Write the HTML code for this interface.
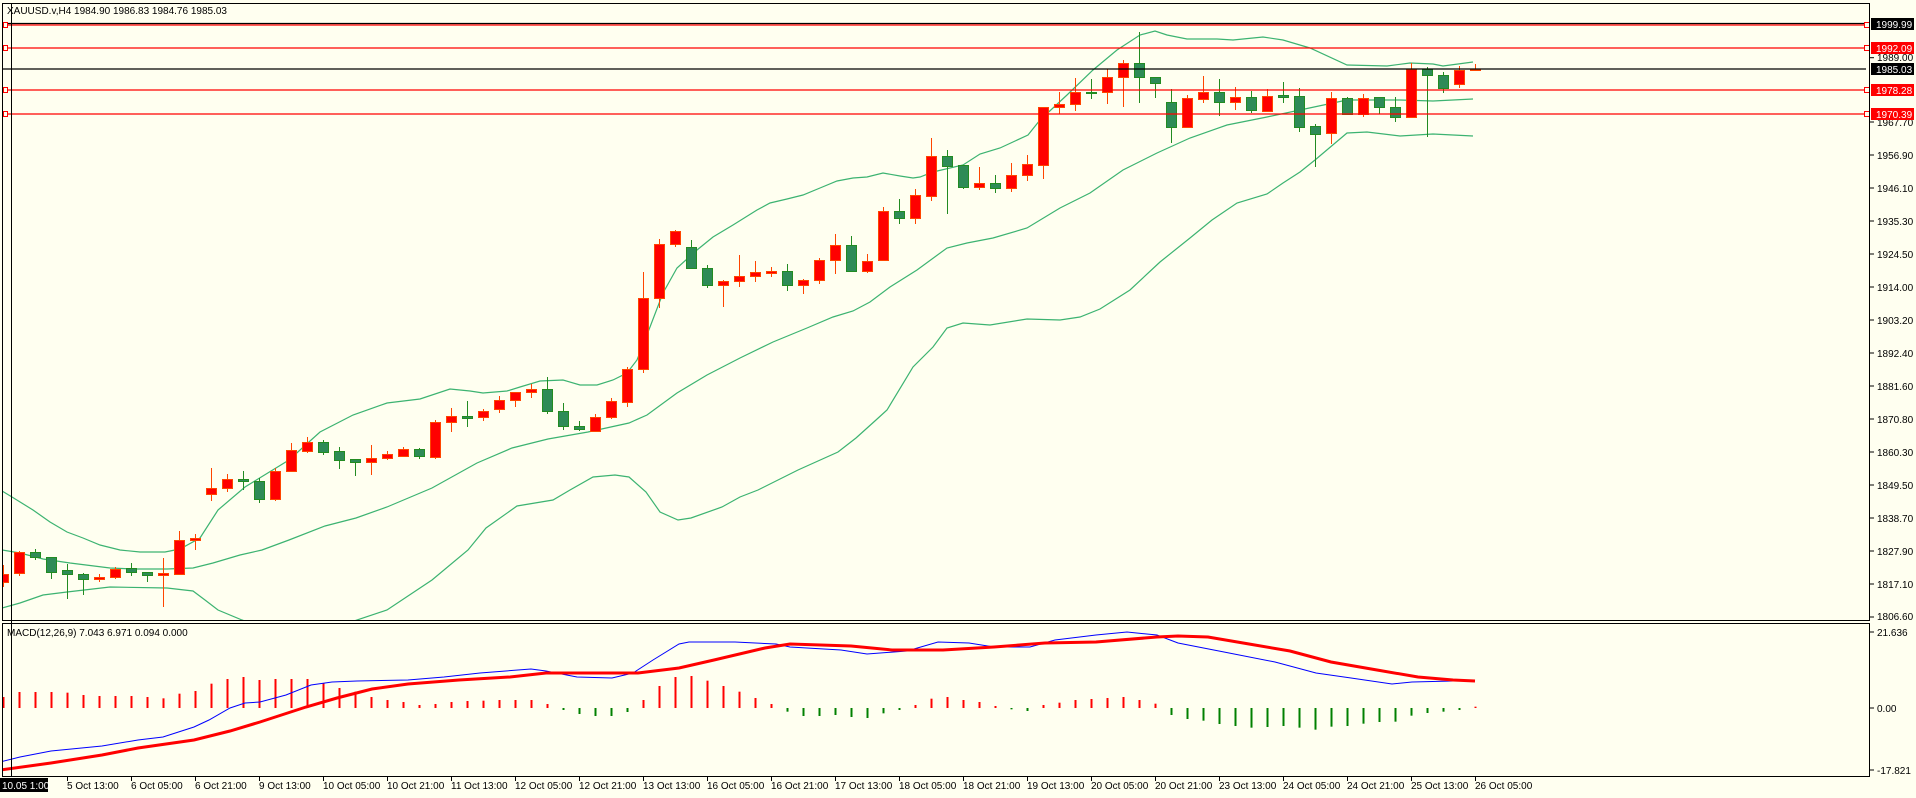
<!DOCTYPE html>
<html><head><meta charset="utf-8"><style>
html,body{margin:0;padding:0;background:#fffff0;}
svg{display:block;}
text{font-family:"Liberation Sans",sans-serif;font-size:10px;fill:#000;}
</style></head><body>
<svg id="s" width="1916" height="798" xmlns="http://www.w3.org/2000/svg">
<rect width="1916" height="798" fill="#fffff0"/>
<defs>
<clipPath id="cm"><rect x="3" y="4" width="1866" height="616"/></clipPath>
<clipPath id="cd"><rect x="3" y="624" width="1866" height="152"/></clipPath>
</defs>
<g id="bands" clip-path="url(#cm)" fill="none" stroke="#3cb371" stroke-width="1.2">
<polyline points="2,491 12,497 33,510 50,522 67,532 83,538 100,545 120,550 140,552 165,552 180,549 200,538 218,510 245,487 289,460 320,432 353,415 387,403 420,399 450,389 470,391 483,393 507,391 520,387 540,381 563,380 580,385 597,385 613,380 627,373 637,360 650,327 663,293 677,268 697,250 713,237 733,225 757,210 770,203 787,199 803,195 820,188 837,181 853,178 867,177 883,173 900,176 913,178 920,177 933,172 963,165 980,154 1000,148 1028,135 1040,120 1067,95 1093,70 1117,50 1140,35 1155,31 1167,35 1187,39 1217,39 1233,40 1263,37 1283,40 1310,48 1347,65 1387,66 1410,63 1433,64 1443,66 1473,62"/>
<polyline points="2,550 20,553 43,559 70,563 110,568 133,569 167,569 193,568 213,563 240,555 262,550 289,540 325,526 356,518 387,507 432,488 477,463 512,448 548,439 588,432 629,423 647,415 677,393 707,375 740,358 773,342 807,328 833,317 853,311 870,302 890,287 917,270 947,248 967,243 993,238 1027,228 1060,208 1090,193 1123,170 1157,153 1190,138 1227,125 1267,117 1300,110 1347,100 1400,100 1433,101 1473,99"/>
<polyline points="2,608 20,603 43,595 67,592 110,587 167,588 193,591 205,600 218,610 242,620 270,630 340,630 354,621 387,610 432,580 468,550 486,528 517,506 553,500 570,490 593,477 615,475 629,477 646,492 660,512 678,520 691,518 722,507 740,497 758,490 798,470 838,452 856,438 876,420 887,410 913,367 933,347 947,328 963,323 990,325 1027,319 1060,320 1080,317 1100,309 1130,290 1160,262 1190,238 1212,220 1237,203 1267,194 1283,183 1300,172 1315,160 1347,133 1367,132 1400,136 1433,134 1473,136"/>
</g>
<g id="candles" clip-path="url(#cm)"></g>
<g id="hlines"></g>
<g id="macd" clip-path="url(#cd)"></g>
<!-- frames -->
<rect x="2.5" y="3.5" width="1867" height="617" fill="none" stroke="#000"/>
<rect x="2.5" y="623.5" width="1867" height="153" fill="none" stroke="#000"/>
<line x1="11.5" y1="3" x2="11.5" y2="777" stroke="#000"/>
<text x="7" y="14">XAUUSD.v,H4  1984.90 1986.83 1984.76 1985.03</text>
<text x="7" y="636">MACD(12,26,9) 7.043 6.971 0.094 0.000</text>
<g id="ticks" stroke="#000"></g>
<!-- price labels -->
<g>
<text x="1877" y="61">1989.00</text>
<text x="1877" y="126">1967.70</text>
<text x="1877" y="159">1956.90</text>
<text x="1877" y="192">1946.10</text>
<text x="1877" y="225">1935.30</text>
<text x="1877" y="258">1924.50</text>
<text x="1877" y="291">1914.00</text>
<text x="1877" y="324">1903.20</text>
<text x="1877" y="357">1892.40</text>
<text x="1877" y="390">1881.60</text>
<text x="1877" y="423">1870.80</text>
<text x="1877" y="456">1860.30</text>
<text x="1877" y="489">1849.50</text>
<text x="1877" y="522">1838.70</text>
<text x="1877" y="555">1827.90</text>
<text x="1877" y="588">1817.10</text>
<text x="1877" y="620">1806.60</text>
<rect x="1871" y="18" width="43" height="12" fill="#000"/><text x="1876" y="28" style="fill:#fff">1999.99</text>
<rect x="1871" y="42" width="43" height="12" fill="#f00"/><text x="1876" y="52" style="fill:#fff">1992.09</text>
<rect x="1871" y="63" width="43" height="12" fill="#000"/><text x="1876" y="73" style="fill:#fff">1985.03</text>
<rect x="1871" y="84" width="43" height="12" fill="#f00"/><text x="1876" y="94" style="fill:#fff">1978.28</text>
<rect x="1871" y="108" width="43" height="12" fill="#f00"/><text x="1876" y="118" style="fill:#fff">1970.39</text>
<text x="1877" y="636">21.636</text>
<text x="1877" y="712">0.00</text>
<text x="1877" y="774">-17.821</text>
</g>
<!-- date labels -->
<rect x="0" y="778" width="48" height="14" fill="#000"/>
<text x="2" y="789" style="fill:#fff">10.05 1:00</text>
<g>
<text x="67" y="789">5 Oct 13:00</text>
<text x="131" y="789">6 Oct 05:00</text>
<text x="195" y="789">6 Oct 21:00</text>
<text x="259" y="789">9 Oct 13:00</text>
<text x="323" y="789">10 Oct 05:00</text>
<text x="387" y="789">10 Oct 21:00</text>
<text x="451" y="789">11 Oct 13:00</text>
<text x="515" y="789">12 Oct 05:00</text>
<text x="579" y="789">12 Oct 21:00</text>
<text x="643" y="789">13 Oct 13:00</text>
<text x="707" y="789">16 Oct 05:00</text>
<text x="771" y="789">16 Oct 21:00</text>
<text x="835" y="789">17 Oct 13:00</text>
<text x="899" y="789">18 Oct 05:00</text>
<text x="963" y="789">18 Oct 21:00</text>
<text x="1027" y="789">19 Oct 13:00</text>
<text x="1091" y="789">20 Oct 05:00</text>
<text x="1155" y="789">20 Oct 21:00</text>
<text x="1219" y="789">23 Oct 13:00</text>
<text x="1283" y="789">24 Oct 05:00</text>
<text x="1347" y="789">24 Oct 21:00</text>
<text x="1411" y="789">25 Oct 13:00</text>
<text x="1475" y="789">26 Oct 05:00</text>
</g>
</svg>
<script>
var NS="http://www.w3.org/2000/svg";
function el(p,t,a){var e=document.createElementNS(NS,t);for(var k in a)e.setAttribute(k,a[k]);p.appendChild(e);return e;}
var D=[
"r 574 582 565 587","r 552 573 551 576","g 552 557 549 560","g 557 572 557 579","g 570 574 564 599","g 574 579 573 595","r 577 579 574 582","r 569 577 567 579","g 568 572 563 576","g 572 575 572 582",
"r 573 575 558 607","r 540 574 531 575","r 538 540 534 550","r 488 494 468 501","r 479 488 474 492","g 479 481 471 490","g 481 499 478 503","r 471 499 468 501","r 450 471 443 471","r 442 451 437 453",
"g 442 452 440 455","g 451 460 447 469","g 459 462 459 476","r 458 462 445 475","r 454 458 451 460","r 449 456 447 457","g 449 456 448 459","r 422 457 420 459","r 416 422 408 432","g 416 418 401 427",
"r 411 417 409 421","r 400 409 396 413","r 392 400 392 407","r 389 392 384 398","g 389 411 377 414","g 411 426 403 430","g 426 429 421 431","r 417 431 414 431","r 401 417 398 419","r 369 402 367 407",
"r 298 369 272 373","r 244 298 239 308","r 231 244 230 247","g 247 268 240 268","g 268 285 265 288","r 281 285 280 307","r 276 281 255 287","r 272 276 261 282","r 271 273 267 277","g 271 285 264 291",
"r 280 285 279 294","r 260 280 258 284","r 245 260 234 274","g 245 271 236 271","r 261 271 254 273","r 211 260 207 260","g 211 218 199 224","r 195 218 189 224","r 156 196 138 201","g 156 166 150 214",
"g 165 187 165 189","r 183 187 167 190","g 183 188 175 193","r 175 188 163 192","r 164 175 155 181","r 107 165 107 179","r 104 107 92 114","r 92 104 78 111","g 92 93 79 99","r 77 92 69 104",
"r 63 77 60 107","g 63 77 32 103","g 77 83 77 98","g 102 127 89 143","r 98 127 95 128","r 92 99 76 103","g 92 102 79 116","r 97 102 87 110","g 97 110 91 113","r 96 111 89 111",
"g 95 97 82 103","g 96 127 88 132","g 126 134 124 167","r 98 133 92 144","g 98 114 97 114","r 98 114 94 117","g 97 107 97 114","g 107 117 97 122","r 69 117 63 117","g 69 75 67 137",
"g 75 88 72 93","r 70 84 66 88","r 69 70 64 70"];
var C=document.getElementById("candles");
D.forEach(function(s,i){var a=s.split(" "),x=3+16*i,t=+a[1],b=+a[2],h=+a[3],l=+a[4];
var up=a[0]=="r",sc=up?"#ff4500":"#228b22",fc=up?"#ff0000":"#2e8b57";
el(C,"line",{x1:x+.5,x2:x+.5,y1:h,y2:l,stroke:sc,"stroke-width":1});
var hh=Math.max(b-t,1);
el(C,"rect",{x:x-4.5,y:t+.5,width:10,height:hh,fill:fc,stroke:sc,"stroke-width":1});});
var H=document.getElementById("hlines");
[[23.5,"#000"],[25,"#f00"],[48,"#f00"],[69,"#000"],[90,"#f00"],[114,"#f00"]].forEach(function(p){
el(H,"line",{x1:3,x2:1866,y1:p[0],y2:p[0],stroke:p[1],"stroke-width":1.2});
if(p[1]=="#f00"){el(H,"rect",{x:1864.5,y:p[0]-2.5,width:5,height:5,fill:"#fffff0",stroke:"#f00"});
el(H,"rect",{x:3.5,y:p[0]-2.5,width:4,height:5,fill:"#fffff0",stroke:"#f00"});}});
var M=document.getElementById("macd");
var Z=[231,216,216,216,218,225,228,228,228,231,235,221,213,191,177,171,180,177,177,177,189,204,215,231,240,246,255,252,246,243,242,240,240,240,252,270,282,288,288,276,240,198,171,168,182,198,215,234,252,275,288,288,285,291,294,280,270,255,236,231,240,246,258,268,273,255,248,240,237,234,231,240,251,285,297,302,312,318,323,321,318,323,329,320,318,311,306,305,287,279,275,270,260];
Z.forEach(function(z,i){var x=3+16*i+.5,y=620+z/3,base=708;
el(M,"line",{x1:x,x2:x,y1:base,y2:y,stroke:z<263?"#ff0000":"#008000","stroke-width":2});});
el(M,"polyline",{fill:"none",stroke:"#0000ff","stroke-width":1,points:"0,762 20,757 51,751 102,746 138,740 163,737 194,727 209,720 230,708 245,703 260,702 286,695 311,685 332,682 357,681 408,680 444,677 480,673 531,669 546,671 577,677 612,678 633,673 653,660 679,644 689,642 735,642 776,644 790,647 841,650 867,654 907,651 938,642 969,643 994,647 1030,647 1055,640 1096,635 1127,632 1157,635 1178,643 1224,652 1275,662 1316,673 1351,678 1392,684 1412,682 1453,681 1475,681"});
el(M,"polyline",{fill:"none",stroke:"#ff0000","stroke-width":3,points:"0,770 51,763 102,755 138,748 194,740 230,731 260,722 306,707 337,698 372,689 408,684 459,680 510,677 546,673 612,673 638,673 679,668 714,660 765,648 790,644 851,646 892,650 943,650 994,647 1045,643 1096,642 1157,637 1178,636 1208,637 1249,644 1290,651 1331,662 1377,670 1418,677 1453,680 1475,681"});
var T=document.getElementById("ticks");
[57.7,122,155,188,221,254,287,320,353,386,419,452,485,518,551,584,617,632,708,770].forEach(function(y){el(T,"line",{x1:1870,x2:1874,y1:y,y2:y});});
for(var i=4;i<=92;i+=4){var x=3+16*i+.5;el(T,"line",{x1:x,x2:x,y1:777,y2:781});}
</script>
</body></html>
